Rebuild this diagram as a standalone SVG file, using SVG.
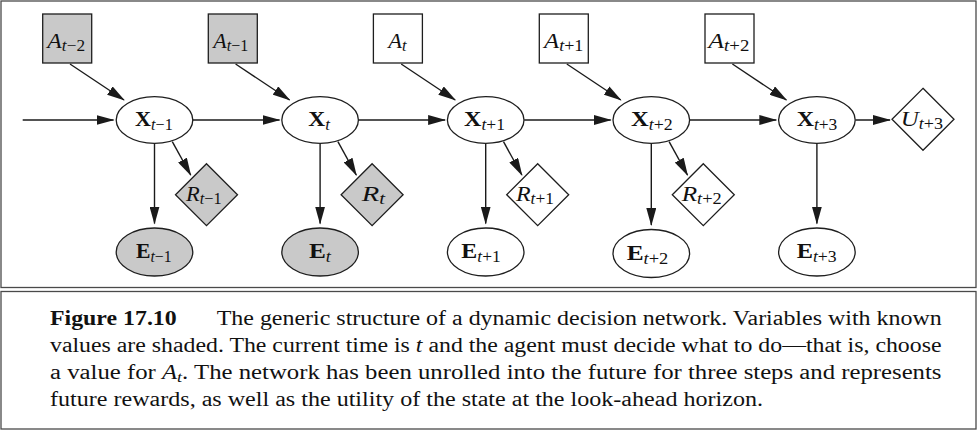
<svg xmlns="http://www.w3.org/2000/svg" width="978" height="430" viewBox="0 0 978 430">
<defs>
<style>
.frame{fill:none;stroke:#4a4a4a;stroke-width:1.3}
.node{stroke:#1e1e1e;stroke-width:1.3}
.obs{fill:#c9c9c9}
.free{fill:#ffffff}
.edge{stroke:#1a1a1a;stroke-width:1.4;fill:none;marker-end:url(#arr)}
.lbl{font-family:"Liberation Serif","Times New Roman",serif;font-size:22px;fill:#111;text-anchor:middle}
.sub{font-size:16px}
.it{font-style:italic}
.bf{font-weight:bold}
.cap{font-family:"Liberation Serif","Times New Roman",serif;font-size:20.5px;fill:#111}
</style>
<marker id="arr" markerWidth="18" markerHeight="10" refX="17" refY="5" orient="auto" markerUnits="userSpaceOnUse">
<path d="M0,0 L18,5 L0,10 z" fill="#1a1a1a"/>
</marker>
</defs>
<rect x="0" y="0" width="978" height="430" fill="#ffffff"/>
<g id="frame">
<rect class="frame" x="1" y="1" width="975" height="286.5"/>
<rect class="frame" x="1" y="291.5" width="975" height="137.5"/>
</g>
<g id="connectors">
<line class="edge" x1="22.7" y1="120" x2="113.5" y2="120"/>
<line class="edge" x1="70" y1="64" x2="124" y2="100"/>
<line class="edge" x1="193" y1="120" x2="279.5" y2="120"/>
<line class="edge" x1="154.5" y1="143.5" x2="154.5" y2="223.5"/>
<line class="edge" x1="172.3" y1="141.7" x2="190.7" y2="175"/>
<line class="edge" x1="235.6" y1="64" x2="289.6" y2="100"/>
<line class="edge" x1="358.6" y1="120" x2="445.1" y2="120"/>
<line class="edge" x1="320.1" y1="143.5" x2="320.1" y2="223.5"/>
<line class="edge" x1="337.9" y1="141.7" x2="356.3" y2="175"/>
<line class="edge" x1="401.2" y1="64" x2="455.2" y2="100"/>
<line class="edge" x1="524.2" y1="120" x2="610.7" y2="120"/>
<line class="edge" x1="485.7" y1="143.5" x2="485.7" y2="223.5"/>
<line class="edge" x1="503.5" y1="141.7" x2="521.9" y2="175"/>
<line class="edge" x1="566.8" y1="64" x2="620.8" y2="100"/>
<line class="edge" x1="689.8" y1="120" x2="776.3" y2="120"/>
<line class="edge" x1="651.3" y1="143.5" x2="651.3" y2="225"/>
<line class="edge" x1="669.1" y1="141.7" x2="687.5" y2="175"/>
<line class="edge" x1="732.4" y1="64" x2="786.4" y2="100"/>
<line class="edge" x1="855.4" y1="120" x2="890" y2="120"/>
<line class="edge" x1="816.9" y1="143.5" x2="816.9" y2="223.5"/>
</g>
<g id="A_tm2"><rect class="node obs" x="42.7" y="14" width="49" height="49"/>
<text class="lbl" x="66.2" y="48" textLength="37.7" lengthAdjust="spacingAndGlyphs"><tspan class="it">A</tspan><tspan class="sub" dy="2.5"><tspan class="it">t</tspan>−2</tspan></text></g>
<g id="A_tm1"><rect class="node obs" x="208.3" y="14" width="49" height="49"/>
<text class="lbl" x="230.8" y="48" textLength="35" lengthAdjust="spacingAndGlyphs"><tspan class="it">A</tspan><tspan class="sub" dy="2.5"><tspan class="it">t</tspan>−1</tspan></text></g>
<g id="A_t"><rect class="node free" x="373.4" y="14" width="49" height="49"/>
<text class="lbl" x="397.5" y="48" textLength="18.3" lengthAdjust="spacingAndGlyphs"><tspan class="it">A</tspan><tspan class="sub it" dy="2.5">t</tspan></text></g>
<g id="A_tp1"><rect class="node free" x="539.3" y="14" width="49" height="49"/>
<text class="lbl" x="563.7" y="48" textLength="39.3" lengthAdjust="spacingAndGlyphs"><tspan class="it">A</tspan><tspan class="sub" dy="2.5"><tspan class="it">t</tspan>+1</tspan></text></g>
<g id="A_tp2"><rect class="node free" x="705" y="14" width="49" height="49"/>
<text class="lbl" x="728.8" y="48" textLength="41" lengthAdjust="spacingAndGlyphs"><tspan class="it">A</tspan><tspan class="sub" dy="2.5"><tspan class="it">t</tspan>+2</tspan></text></g>
<g id="X_tm1"><ellipse class="node free" cx="154.5" cy="120" rx="38.3" ry="23.3"/>
<text class="lbl" x="153.9" y="125.5" textLength="37.7" lengthAdjust="spacingAndGlyphs"><tspan class="bf">X</tspan><tspan class="sub" dy="4"><tspan class="it">t</tspan>−1</tspan></text></g>
<g id="X_t"><ellipse class="node free" cx="320.1" cy="120" rx="38.3" ry="23.3"/>
<text class="lbl" x="319.2" y="125.5" textLength="21.7" lengthAdjust="spacingAndGlyphs"><tspan class="bf">X</tspan><tspan class="sub it" dy="4">t</tspan></text></g>
<g id="X_tp1"><ellipse class="node free" cx="485.7" cy="120" rx="38.3" ry="23.3"/>
<text class="lbl" x="484.5" y="125.5" textLength="41" lengthAdjust="spacingAndGlyphs"><tspan class="bf">X</tspan><tspan class="sub" dy="4"><tspan class="it">t</tspan>+1</tspan></text></g>
<g id="X_tp2"><ellipse class="node free" cx="651.3" cy="120" rx="38.3" ry="23.3"/>
<text class="lbl" x="651.8" y="125.5" textLength="41.7" lengthAdjust="spacingAndGlyphs"><tspan class="bf">X</tspan><tspan class="sub" dy="4"><tspan class="it">t</tspan>+2</tspan></text></g>
<g id="X_tp3"><ellipse class="node free" cx="816.9" cy="120" rx="38.3" ry="23.3"/>
<text class="lbl" x="817" y="125.5" textLength="40.7" lengthAdjust="spacingAndGlyphs"><tspan class="bf">X</tspan><tspan class="sub" dy="4"><tspan class="it">t</tspan>+3</tspan></text></g>
<g id="E_tm1"><ellipse class="node obs" cx="154.5" cy="252" rx="38.3" ry="24"/>
<text class="lbl" x="153.8" y="258" textLength="35.7" lengthAdjust="spacingAndGlyphs"><tspan class="bf">E</tspan><tspan class="sub" dy="4"><tspan class="it">t</tspan>−1</tspan></text></g>
<g id="E_t"><ellipse class="node obs" cx="320.1" cy="252" rx="38.3" ry="24"/>
<text class="lbl" x="320" y="258" textLength="22" lengthAdjust="spacingAndGlyphs"><tspan class="bf">E</tspan><tspan class="sub it" dy="4">t</tspan></text></g>
<g id="E_tp1"><ellipse class="node free" cx="485.7" cy="252" rx="38.3" ry="24"/>
<text class="lbl" x="481" y="258" textLength="39.3" lengthAdjust="spacingAndGlyphs"><tspan class="bf">E</tspan><tspan class="sub" dy="4"><tspan class="it">t</tspan>+1</tspan></text></g>
<g id="E_tp2"><ellipse class="node free" cx="651.3" cy="253.5" rx="38.3" ry="24"/>
<text class="lbl" x="647.5" y="259.5" textLength="41.7" lengthAdjust="spacingAndGlyphs"><tspan class="bf">E</tspan><tspan class="sub" dy="4"><tspan class="it">t</tspan>+2</tspan></text></g>
<g id="E_tp3"><ellipse class="node free" cx="816.9" cy="252" rx="38.3" ry="24"/>
<text class="lbl" x="816.7" y="258" textLength="40" lengthAdjust="spacingAndGlyphs"><tspan class="bf">E</tspan><tspan class="sub" dy="4"><tspan class="it">t</tspan>+3</tspan></text></g>
<g id="R_tm1"><polygon class="node obs" points="206.5,163.7 237.5,194.7 206.5,225.7 175.5,194.7"/>
<text class="lbl" x="203.8" y="201" textLength="35.7" lengthAdjust="spacingAndGlyphs"><tspan class="it">R</tspan><tspan class="sub" dy="3"><tspan class="it">t</tspan>−1</tspan></text></g>
<g id="R_t"><polygon class="node obs" points="372.1,163.7 403.1,194.7 372.1,225.7 341.1,194.7"/>
<text class="lbl" x="373.3" y="201" textLength="23.3" lengthAdjust="spacingAndGlyphs"><tspan class="it">R</tspan><tspan class="sub it" dy="3">t</tspan></text></g>
<g id="R_tp1"><polygon class="node free" points="537.7,163.7 568.7,194.7 537.7,225.7 506.7,194.7"/>
<text class="lbl" x="535" y="201" textLength="38" lengthAdjust="spacingAndGlyphs"><tspan class="it">R</tspan><tspan class="sub" dy="3"><tspan class="it">t</tspan>+1</tspan></text></g>
<g id="R_tp2"><polygon class="node free" points="703.3,163.7 734.3,194.7 703.3,225.7 672.3,194.7"/>
<text class="lbl" x="701.7" y="201" textLength="40" lengthAdjust="spacingAndGlyphs"><tspan class="it">R</tspan><tspan class="sub" dy="3"><tspan class="it">t</tspan>+2</tspan></text></g>
<g id="U_tp3"><polygon class="node free" points="923,88.3 954,119.3 923,150.3 892,119.3"/>
<text class="lbl" x="922" y="126" textLength="42.3" lengthAdjust="spacingAndGlyphs"><tspan class="it">U</tspan><tspan class="sub" dy="3"><tspan class="it">t</tspan>+3</tspan></text></g>
<g id="caption">
<text class="cap bf" x="50" y="325" textLength="126.7" lengthAdjust="spacingAndGlyphs">Figure 17.10</text>
<text class="cap" x="216.7" y="325" textLength="725" lengthAdjust="spacingAndGlyphs">The generic structure of a dynamic decision network. Variables with known</text>
<text class="cap" x="50" y="352" textLength="891.5" lengthAdjust="spacingAndGlyphs">values are shaded. The current time is <tspan class="it">t</tspan> and the agent must decide what to do—that is, choose</text>
<text class="cap" x="50" y="379" textLength="891.5" lengthAdjust="spacingAndGlyphs">a value for <tspan class="it">A</tspan><tspan class="it" font-size="15" dy="3">t</tspan><tspan dy="-3">. The network has been unrolled into the future for three steps and represents</tspan></text>
<text class="cap" x="50" y="406" textLength="713" lengthAdjust="spacingAndGlyphs">future rewards, as well as the utility of the state at the look-ahead horizon.</text>
</g>
</svg>
